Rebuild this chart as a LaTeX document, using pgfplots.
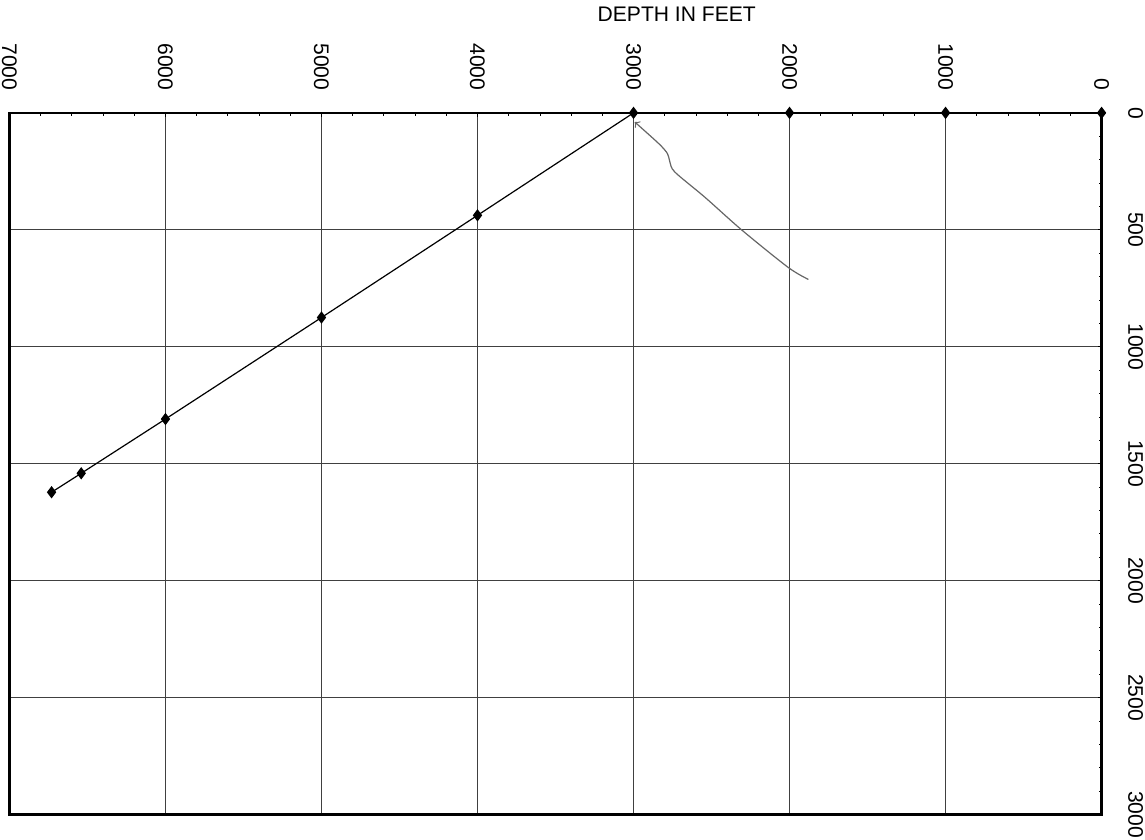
\documentclass[border=0pt]{standalone}
\usepackage{fontspec}
\setmainfont{Liberation Sans}
\usepackage{pgfplots}
\pgfplotsset{compat=1.18}

\begin{document}
\begin{tikzpicture}
\fontsize{10.5}{12}\selectfont
\begin{axis}[
    scale only axis, width=544pt, height=349.5pt,
    x dir=reverse, y dir=reverse,
    xmin=0, xmax=7000, ymin=0, ymax=3000,
    xtick={0,1000,...,7000}, ytick={0,500,...,3000},
    minor x tick num=4, minor y tick num=4,
    xtick pos=upper, ytick pos=right,
    xticklabel pos=upper, yticklabel pos=right,
    tick align=inside, major tick length=2pt, minor tick length=1.5pt,
    every tick/.style={black, thin},
    grid=major, major grid style={black!75, line width=0.45pt},
    axis line style={line width=1.3pt},
    /pgf/number format/assume math mode=true,
    /pgf/number format/set thousands separator={},
    xticklabel style={yshift=10pt, rotate=-90, anchor=east, inner sep=1pt,
        font=\fontsize{10.5}{12}\selectfont},
    yticklabel style={xshift=12pt, rotate=-90, anchor=south, inner sep=1pt,
        font=\fontsize{10.5}{12}\selectfont},
    clip=false,
]
% depth curve
\addplot[black, line width=0.6pt, mark=diamond*, mark size=2.6pt] coordinates {
    (0,0) (1000,0) (2000,0) (3000,0)
    (4000,438) (5000,875) (6000,1309) (6540,1541) (6730,1622)
};
% hand-drawn annotation
\addplot[black!60, line width=0.6pt, smooth, <-] coordinates {
    (2992,39) (2799,159) (2767,210) (2735,253) (2542,361)
    (2304,502) (2008,661) (1879,712)
};
\node[anchor=base] at (rel axis cs:0.611,1) [yshift=45.5pt] {DEPTH IN FEET};
\end{axis}
\end{tikzpicture}
\end{document}
